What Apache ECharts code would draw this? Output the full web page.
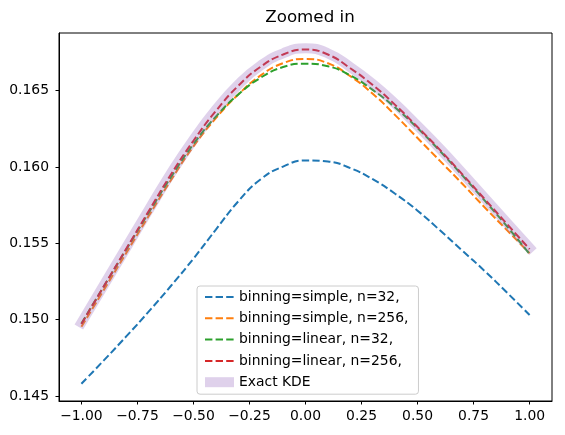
<!DOCTYPE html>
<html>
<head>
<meta charset="utf-8">
<script src="https://cdn.jsdelivr.net/npm/echarts@6/dist/echarts.min.js"></script>
<style>
  html, body { margin: 0; padding: 0; background: #fff; }
  #container1 { width: 565px; height: 435px; }
</style>
</head>
<body>
<div id="container1"></div>
<script>
// x positions of the evaluated KDE points
var xValues = [-1.0, -0.9, -0.8, -0.7, -0.6, -0.5, -0.4, -0.3, -0.2, -0.1, 0.0,
               0.1, 0.2, 0.3, 0.4, 0.5, 0.6, 0.7, 0.8, 0.9, 1.0];
// values
var simple32  = [0.14580, 0.14733, 0.14890, 0.15052, 0.15222, 0.15400, 0.15590, 0.15775, 0.15920, 0.16003, 0.16043,
                 0.16036, 0.15993, 0.15920, 0.15825, 0.15714, 0.15585, 0.15452, 0.15318, 0.15176, 0.15030];
var simple256 = [0.14953, 0.15195, 0.15437, 0.15679, 0.15915, 0.16135, 0.16320, 0.16475, 0.16600, 0.16680, 0.16708,
                 0.16680, 0.16595, 0.16480, 0.16340, 0.16190, 0.16040, 0.15890, 0.15735, 0.15585, 0.15435];
var linear32  = [0.14975, 0.15218, 0.15460, 0.15700, 0.15935, 0.16150, 0.16330, 0.16475, 0.16585, 0.16655, 0.16677,
                 0.16660, 0.16600, 0.16505, 0.16390, 0.16255, 0.16105, 0.15945, 0.15780, 0.15610, 0.15430];
var linear256 = [0.14972, 0.15218, 0.15464, 0.15710, 0.15952, 0.16172, 0.16367, 0.16532, 0.16657, 0.16737, 0.16770,
                 0.16737, 0.16647, 0.16537, 0.16407, 0.16262, 0.16112, 0.15952, 0.15789, 0.15625, 0.15462];
var exactKde  = [0.14980, 0.15226, 0.15472, 0.15718, 0.15960, 0.16180, 0.16375, 0.16540, 0.16665, 0.16745, 0.16778,
                 0.16745, 0.16655, 0.16545, 0.16415, 0.16270, 0.16120, 0.15960, 0.15797, 0.15633, 0.15470];
var xTicks = [-1.0, -0.75, -0.5, -0.25, 0.0, 0.25, 0.5, 0.75, 1.0];
var yTicks = [0.145, 0.150, 0.155, 0.160, 0.165];

function pairs(ys) {
    var out = [];
    for (var i = 0; i < xValues.length; i++) {
        out.push([xValues[i], ys[i]]);
    }
    return out;
}

function dashed(name, color, ys) {
    return {
        name: name,
        type: 'line',
        data: pairs(ys),
        symbol: 'none',
        smooth: 0.5,
        lineStyle: { color: color, width: 2, type: [7.4, 3.2] },
        itemStyle: { color: color }
    };
}

var FONT = 'DejaVu Sans';
var myChart = echarts.init(document.getElementById('container1'));
var option = {
    animation: false,
    backgroundColor: '#fff',
    title: {
        text: 'Zoomed in',
        left: 305,
        top: 4,
        textAlign: 'center',
        textStyle: { fontFamily: FONT, fontSize: 16.7, fontWeight: 'normal', color: '#000' }
    },
    grid: {
        left: 59, right: 13, top: 33, bottom: 34,
        show: true, borderColor: '#000', borderWidth: 1
    },
    legend: {
        orient: 'vertical',
        left: 197,
        top: 286,
        padding: [4, 10, 5, 3],
        itemWidth: 29,
        itemHeight: 10,
        itemGap: 7.3,
        itemTextGap: 11,
        backgroundColor: 'rgba(255,255,255,0.8)',
        borderColor: '#cccccc',
        borderWidth: 1,
        borderRadius: 3,
        itemStyle: { opacity: 0 },
        textStyle: { fontFamily: FONT, fontSize: 13.9, color: '#000', lineHeight: 14 },
        data: [
            { name: 'binning=simple, n=32,' },
            { name: 'binning=simple, n=256,' },
            { name: 'binning=linear, n=32,' },
            { name: 'binning=linear, n=256,' },
            { name: 'Exact KDE', lineStyle: { width: 10, color: '#dfd1eb', opacity: 1, cap: 'butt' } }
        ]
    },
    xAxis: {
        type: 'value',
        min: -1.1,
        max: 1.1,
        axisLine: { show: true, onZero: false, lineStyle: { color: '#000', width: 1 } },
        axisTick: { show: true, length: 3.5, lineStyle: { color: '#000' }, customValues: xTicks },
        axisLabel: {
            customValues: xTicks,
            margin: 8,
            fontFamily: FONT, fontSize: 13.9, color: '#000',
            formatter: function (v) { return v.toFixed(2).replace('-', '\u2212'); }
        },
        splitLine: { show: false }
    },
    yAxis: {
        type: 'value',
        min: 0.14467,
        max: 0.16878,
        axisLine: { show: true, onZero: false, lineStyle: { color: '#000', width: 1 } },
        axisTick: { show: true, length: 3.5, lineStyle: { color: '#000' }, customValues: yTicks },
        axisLabel: {
            customValues: yTicks,
            margin: 10,
            fontFamily: FONT, fontSize: 13.9, color: '#000',
            formatter: function (v) { return v.toFixed(3); }
        },
        splitLine: { show: false }
    },
    series: [
        dashed('binning=simple, n=32,', '#1f77b4', simple32),
        dashed('binning=simple, n=256,', '#ff7f0e', simple256),
        dashed('binning=linear, n=32,', '#2ca02c', linear32),
        dashed('binning=linear, n=256,', '#d62728', linear256),
        {
            name: 'Exact KDE',
            type: 'line',
            data: pairs(exactKde),
            symbol: 'none',
            smooth: 0.5,
            lineStyle: { color: '#9467bd', width: 10, opacity: 0.3, cap: 'square' },
            itemStyle: { color: 'rgba(148,103,189,0.3)' }
        }
    ]
};
myChart.setOption(option);
</script>
</body>
</html>
